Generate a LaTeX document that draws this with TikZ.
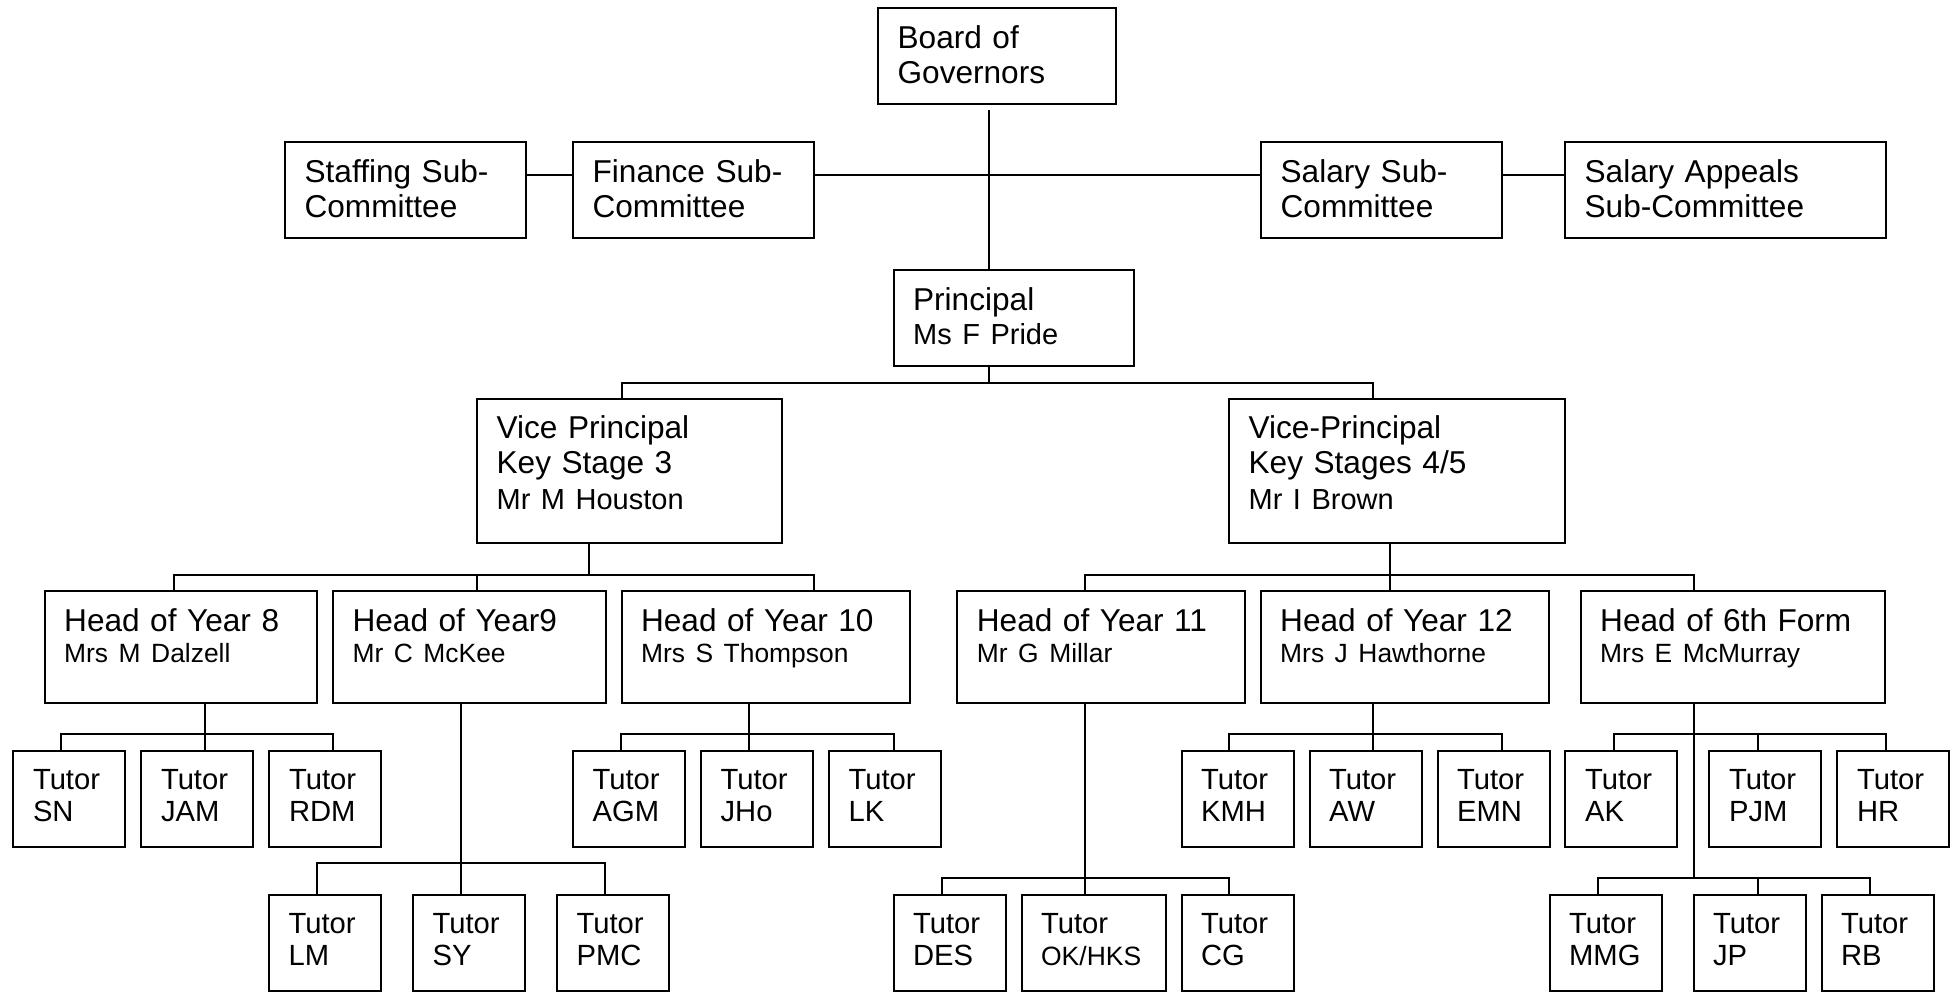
\documentclass[tikz,border=0pt]{standalone}
\usepackage{fontspec}
\setmainfont{Liberation Sans}
\usepackage{tikz}
\usetikzlibrary{positioning}

\newcommand{\vpname}{\fontsize{14.5pt}{17.8pt}\selectfont}
\newcommand{\hdname}{\fontsize{13.2pt}{15.4pt}\selectfont}
\newcommand{\tutsmall}{\fontsize{13.25pt}{16.2pt}\selectfont}

\begin{document}
\begin{tikzpicture}[
    x=0.5pt, y=-0.5pt,
    node distance=8pt,
    box/.style={draw, line width=1pt, anchor=north west, align=left,
                text width={#1-19.6pt}, inner xsep=9.8pt, inner ysep=0pt,
                outer sep=0pt, text height=20pt, text depth=28pt,
                font=\fontsize{15.8pt}{17.8pt}\selectfont},
    vp/.style={box=#1, text height=19.65pt, text depth=52.55pt},
    head/.style={box=#1, text height=20.35pt, text depth=35.45pt},
    tutor/.style={box=56pt, text height=19.3pt, text depth=28.7pt,
                  font=\fontsize{14.6pt}{16.2pt}\selectfont},
    link/.style={line width=1pt},
  ]
  \useasboundingbox (0,0) rectangle (1957,991);

  % ---- Governors and committees ----
  \node[box=119pt] (board) at (878,8) {Board of\\Governors};
  \node[box=120.25pt] (staffing) at (285,142) {Staffing Sub-\\Committee};
  \node[box=120.5pt, right=23.75pt of staffing] (finance) {Finance Sub-\\Committee};
  \node[box=120.5pt] (salary) at (1261,142) {Salary Sub-\\Committee};
  \node[box=160.3pt, right=31.5pt of salary] (appeals) {Salary Appeals\\Sub-Committee};

  % ---- Principal and vice principals ----
  \node[box=120.1pt] (principal) at (893.5,270) {Principal\\[-0.8pt]{\vpname Ms F Pride}};
  \node[vp=152.5pt] (vpa) at (477,399) {Vice Principal\\Key Stage 3\\{\vpname Mr M Houston}};
  \node[vp=168pt] (vpb) at (1229,399) {Vice-Principal\\Key Stages 4/5\\{\vpname Mr I Brown}};

  % ---- Heads of year ----
  \node[head=136.2pt] (y8) at (44.6,591) {Head of Year 8\\[-2.45pt]{\hdname Mrs M Dalzell}};
  \node[head=136.25pt, right=of y8] (y9) {Head of Year9\\[-2.45pt]{\hdname Mr C McKee}};
  \node[head=144.2pt, right=of y9] (y10) {Head of Year 10\\[-2.45pt]{\hdname Mrs S Thompson}};
  \node[head=143.65pt] (y11) at (957.3,591) {Head of Year 11\\[-2.45pt]{\hdname Mr G Millar}};
  \node[head=144.25pt, right=of y11] (y12) {Head of Year 12\\[-2.45pt]{\hdname Mrs J Hawthorne}};
  \node[head=152.3pt, right=15.75pt of y12] (sixth) {Head of 6th Form\\[-2.45pt]{\hdname Mrs E McMurray}};

  % ---- Tutors, first row ----
  \node[tutor] (sn) at (13.4,750.7) {Tutor\\SN};
  \node[tutor, right=of sn] (jam) {Tutor\\JAM};
  \node[tutor, right=of jam] (rdm) {Tutor\\RDM};
  \node[tutor] (agm) at (573,750.7) {Tutor\\AGM};
  \node[tutor, right=of agm] (jho) {Tutor\\JHo};
  \node[tutor, right=of jho] (lk) {Tutor\\LK};
  \node[tutor] (kmh) at (1181.5,750.7) {Tutor\\KMH};
  \node[tutor, right=of kmh] (aw) {Tutor\\AW};
  \node[tutor, right=of aw] (emn) {Tutor\\EMN};
  \node[tutor] (ak) at (1565.4,750.7) {Tutor\\AK};
  \node[tutor, right=16pt of ak] (pjm) {Tutor\\PJM};
  \node[tutor, right=of pjm] (hr) {Tutor\\HR};

  % ---- Tutors, second row ----
  \node[tutor] (lm) at (269,894.7) {Tutor\\LM};
  \node[tutor, right=16pt of lm] (sy) {Tutor\\SY};
  \node[tutor, right=16pt of sy] (pmc) {Tutor\\PMC};
  \node[tutor] (des) at (893.5,894.7) {Tutor\\DES};
  \node[tutor, text width=52.4pt, right=of des] (okhks) {Tutor\\{\tutsmall OK/HKS}};
  \node[tutor, right=of okhks] (cg) {Tutor\\CG};
  \node[tutor] (mmg) at (1549.5,894.7) {Tutor\\MMG};
  \node[tutor, right=16pt of mmg] (jp) {Tutor\\JP};
  \node[tutor, right=of jp] (rb) {Tutor\\RB};

  % ---- Governors line ----
  \draw[link] ([xshift=-4pt,yshift=-3pt]board.south) -- ([xshift=-4pt]board.south |- principal.north);
  \draw[link] ([yshift=7.75pt]staffing.east) -- ([yshift=7.75pt]finance.west);
  \draw[link] ([yshift=7.75pt]finance.east) -- ([yshift=7.75pt]salary.west);
  \draw[link] ([yshift=7.75pt]salary.east) -- ([yshift=7.75pt]appeals.west);

  % ---- Principal to vice principals ----
  \coordinate (pbar) at ([xshift=-12.3pt,yshift=-8.25pt]principal.south);
  \draw[link] ([xshift=-12.3pt]principal.south) -- (pbar);
  \draw[link] ([xshift=-3.75pt]vpa.north) |- (pbar) -| ([xshift=-12pt]vpb.north);

  % ---- Vice principals to heads ----
  \coordinate (abar) at ([xshift=-20.25pt,yshift=-15.65pt]vpa.south);
  \draw[link] ([xshift=-20.25pt]vpa.south) -- (abar);
  \draw[link] ([xshift=-3.65pt]y8.north) |- (abar) -| ([xshift=24.2pt]y10.north);
  \draw[link] ([xshift=4pt]y9.north) -- ([xshift=4pt]y9.north |- abar);

  \coordinate (bbar) at ([xshift=-3.5pt,yshift=-15.65pt]vpb.south);
  \draw[link] ([xshift=-3.5pt]vpb.south) -- ([xshift=-3.5pt]vpb.south |- y12.north);
  \draw[link] ([xshift=-8pt]y11.north) |- (bbar) -| ([xshift=-19.65pt]sixth.north);

  % ---- Heads to tutors ----
  \coordinate (b8) at ([xshift=12.3pt,yshift=-15.7pt]y8.south);
  \draw[link] ([xshift=12.3pt]y8.south) -- ([xshift=12.3pt]y8.south |- jam.north);
  \draw[link] ([xshift=-4.2pt]sn.north) |- (b8) -| ([xshift=3.8pt]rdm.north);

  \coordinate (b9) at ([xshift=-4.3pt,yshift=-80pt]y9.south);
  \draw[link] ([xshift=-4.3pt]y9.south) -- ([xshift=-4.3pt]y9.south |- sy.north);
  \draw[link] ([xshift=-4pt]lm.north) |- (b9) -| ([xshift=-4pt]pmc.north);

  \coordinate (b10) at ([xshift=-8.3pt,yshift=-15.7pt]y10.south);
  \draw[link] ([xshift=-8.3pt]y10.south) -- ([xshift=-8.3pt]y10.south |- jho.north);
  \draw[link] ([xshift=-4pt]agm.north) |- (b10) -| ([xshift=4.25pt]lk.north);

  \coordinate (b11) at ([xshift=-8pt,yshift=-87.85pt]y11.south);
  \draw[link] ([xshift=-8pt]y11.south) -- ([xshift=-8pt]y11.south |- okhks.north);
  \draw[link] ([xshift=-3.75pt]des.north) |- (b11) -| ([xshift=-4.25pt]cg.north);

  \coordinate (b12) at ([xshift=-15.7pt,yshift=-15.7pt]y12.south);
  \draw[link] ([xshift=-15.7pt]y12.south) -- ([xshift=-15.7pt]y12.south |- aw.north);
  \draw[link] ([xshift=-4.25pt]kmh.north) |- (b12) -| ([xshift=4pt]emn.north);

  \coordinate (s1) at ([xshift=-19.65pt,yshift=-15.7pt]sixth.south);
  \coordinate (s2) at ([xshift=-19.65pt,yshift=-87.85pt]sixth.south);
  \draw[link] ([xshift=-19.65pt]sixth.south) -- (s2);
  \draw[link] ([xshift=-3.7pt]ak.north) |- (s1) -| ([xshift=-3.9pt]hr.north);
  \draw[link] ([xshift=-3.7pt]pjm.north) -- ([xshift=-3.7pt]pjm.north |- s1);
  \draw[link] ([xshift=-3.75pt]mmg.north) |- (s2) -| ([xshift=-3.95pt]rb.north);
  \draw[link] ([xshift=4.25pt]jp.north) -- ([xshift=4.25pt]jp.north |- s2);

\end{tikzpicture}
\end{document}
